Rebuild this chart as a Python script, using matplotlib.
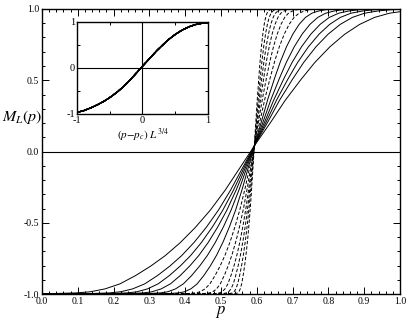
import numpy as np
import matplotlib
matplotlib.use("Agg")
import matplotlib.pyplot as plt
from matplotlib.ticker import MultipleLocator

plt.rcParams['font.family'] = ['Liberation Serif', 'DejaVu Serif']
plt.rcParams['mathtext.fontset'] = 'stix'
plt.rcParams['axes.unicode_minus'] = False

# critical point where the curves cross
pc = 0.593

# scaling function: x = (p - pc) L^{3/4}, y = M_L
master_x = [-1.7, -1.4, -1.2, -1.1, -1.0, -0.9, -0.8, -0.7, -0.6, -0.5, -0.4,
            -0.3, -0.2, -0.1, 0.0, 0.1, 0.2, 0.3, 0.4, 0.5, 0.6, 0.7, 0.8,
            0.9, 1.0, 1.1, 1.2, 1.4]
master_y = [-1.0, -0.998, -0.993, -0.985, -0.965, -0.93, -0.875, -0.81, -0.735,
            -0.645, -0.54, -0.42, -0.28, -0.12, 0.04, 0.19, 0.35, 0.49, 0.62,
            0.73, 0.82, 0.89, 0.94, 0.97, 0.985, 0.994, 0.998, 1.0]

# system sizes (solid = small lattices, dashed = large lattices)
sizes_solid = [3.2, 4.2, 5, 6, 7.5, 10]
sizes_dashed = [14, 20, 28, 38, 52, 75]

p = np.linspace(0, 1, 1001)

fig = plt.figure(figsize=(4.15, 3.21), dpi=100)
ax = fig.add_axes([0.101, 0.084, 0.863, 0.888])

def curve(L):
    return np.interp((p - pc) * L ** 0.75, master_x, master_y)

for L in sizes_solid:
    ax.plot(p, curve(L), color='black', lw=0.7)
for L in sizes_dashed:
    ax.plot(p, curve(L), color='black', lw=0.7, linestyle=(0, (3.5, 2)))

ax.axhline(0, color='black', lw=0.8)
ax.set_xlim(0, 1)
ax.set_ylim(-1, 1)
ax.xaxis.set_major_locator(MultipleLocator(0.1))
ax.xaxis.set_minor_locator(MultipleLocator(0.02))
ax.yaxis.set_major_locator(MultipleLocator(0.5))
ax.yaxis.set_minor_locator(MultipleLocator(0.1))
ax.xaxis.set_major_formatter(lambda v, pos: '%.1f' % v)
ax.yaxis.set_major_formatter(lambda v, pos: '%.1f' % v)
ax.tick_params(which='both', direction='in', top=True, right=True,
               labelsize=7, width=0.7, pad=2)
ax.tick_params(which='major', length=5)
ax.tick_params(which='minor', length=2.5)
for s in ax.spines.values():
    s.set_linewidth(1.0)
ax.set_xlabel('$p$', fontsize=12, labelpad=-1)
ax.set_ylabel('$M_L(p)$', fontsize=11.5, rotation=0, va='center')
ax.yaxis.set_label_coords(-0.056, 0.62)

# inset: data collapse
ins = fig.add_axes([0.1855, 0.645, 0.3157, 0.2866])
for L in sizes_solid:
    ins.plot((p - pc) * L ** 0.75, curve(L), color='black', lw=0.9)
for L in sizes_dashed:
    ins.plot((p - pc) * L ** 0.75, curve(L), color='black', lw=0.9,
             linestyle=(0, (3.5, 2)))
ins.axhline(0, color='black', lw=0.8)
ins.axvline(0, color='black', lw=0.8)
ins.set_xlim(-1, 1)
ins.set_ylim(-1, 1)
ins.set_xticks([-1, 0, 1])
ins.set_yticks([-1, 0, 1])
ins.xaxis.set_minor_locator(MultipleLocator(0.5))
ins.yaxis.set_minor_locator(MultipleLocator(0.5))
ins.tick_params(which='both', direction='in', top=True, right=True,
                labelsize=7.5, width=0.7, pad=1.5)
ins.tick_params(which='major', length=4)
ins.tick_params(which='minor', length=2.5)
for s in ins.spines.values():
    s.set_linewidth(1.0)
ins.set_xlabel(r'$(p\mathrm{-}p_c)\ L^{3/4}$', fontsize=8, labelpad=1)

fig.savefig('out.png', dpi=100)
